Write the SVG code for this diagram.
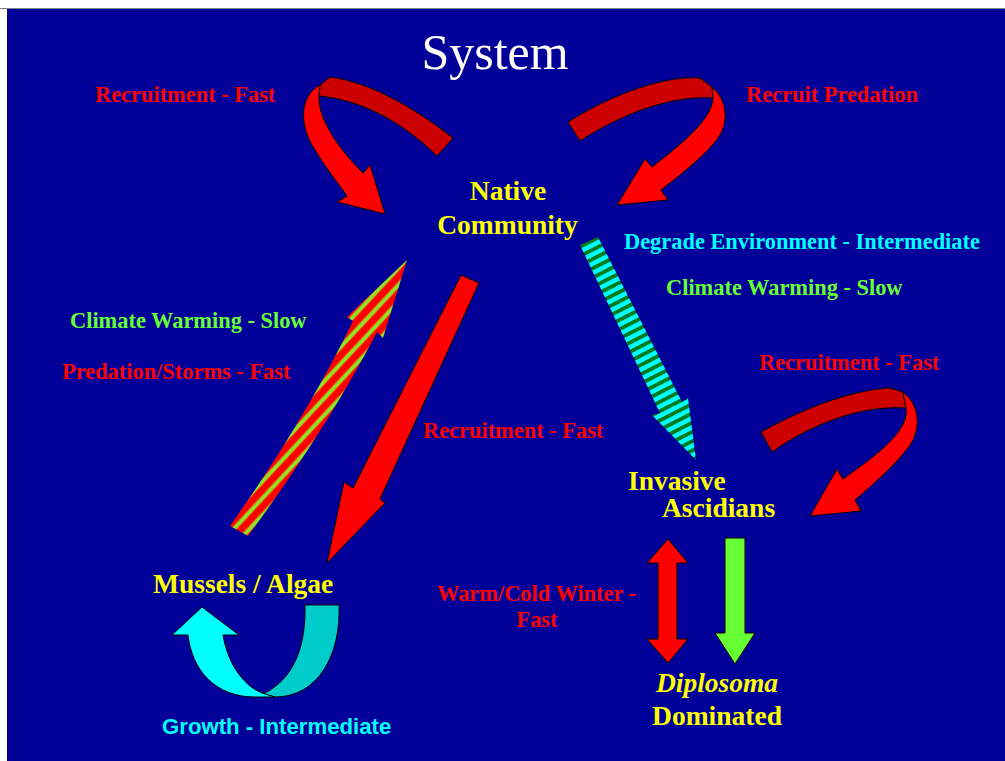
<svg xmlns="http://www.w3.org/2000/svg" width="1005" height="761" viewBox="0 0 1005 761">
  <defs>
    <style>
      .lbl { font-family: "Liberation Serif", "Times New Roman", serif; font-weight: bold; font-size: 22.4px; }
      .node { font-family: "Liberation Serif", "Times New Roman", serif; font-weight: bold; font-size: 27.5px; fill: #FFFF00; }
      .red { fill: #FF0000; }
      .grn { fill: #66FF33; }
      .cyn { fill: #00FFFF; }
      .front { fill: #FF0000; stroke: #000; stroke-width: 1; stroke-linejoin: round; }
      .back { fill: #CC0000; stroke: #000; stroke-width: 1; stroke-linejoin: round; }
    </style>
    <pattern id="rg" patternUnits="userSpaceOnUse" width="11.5" height="11.5" patternTransform="rotate(43)">
      <rect x="0" y="0" width="11.5" height="11.5" fill="#FF0000"/>
      <rect x="0.5" y="0" width="4.5" height="11.5" fill="#D0A818"/>
      <rect x="1.5" y="0" width="2.5" height="11.5" fill="#7CF028"/>
    </pattern>
    <pattern id="cg" patternUnits="userSpaceOnUse" width="8.3" height="8.3" patternTransform="rotate(63)">
      <rect x="0" y="0" width="8.3" height="8.3" fill="#00FFFF"/>
      <rect x="0" y="0" width="3.8" height="8.3" fill="#007A1E"/>
    </pattern>
  </defs>

  <rect x="0" y="0" width="1005" height="761" fill="#FFFFFF"/>
  <rect x="0" y="8" width="1005" height="1" fill="#808080"/>
  <rect x="7" y="9" width="998" height="752" fill="#000099"/>

  <text x="495" y="69" text-anchor="middle" font-family="Liberation Serif, Times New Roman, serif" font-size="50" fill="#FFFFFF">System</text>

  <g id="connectors">
    <!-- top-left self loop -->
    <path class="back" d="M 437,156 L 453,138 C 415,108 370,82 330,77 L 320,85 L 319,96 C 360,100 400,120 437,156 Z"/>
    <path class="front" d="M 320,85 C 300,95 298,125 315,150 C 325,167 337,182 347,196 L 337,202 L 385,214 L 370,165 L 363,173 C 340,150 318,120 319,96 Z"/>
    <!-- top-right self loop -->
    <path class="back" d="M 568,122 C 610,95 665,75 700,78 L 712,87 L 713,98 C 670,95 620,115 580,141 Z"/>
    <path class="front" d="M 712,87 C 728,100 730,125 715,142 C 700,160 680,175 661,190 L 668,200 L 617,205 L 645,159 L 652,167 C 680,145 712,120 713,98 Z"/>
    <!-- right self loop on Invasive Ascidians -->
    <path class="back" d="M 761,432 C 800,410 850,390 890,388 L 903,392 L 906,408 C 860,405 810,425 772,452 Z"/>
    <path class="front" d="M 903,392 C 920,405 922,430 908,448 C 895,465 875,483 855,500 L 861,511 L 810,516 L 837,469 L 843,479 C 872,458 910,432 906,408 Z"/>
    <!-- striped up arrow Mussels -> Native -->
    <path fill="url(#rg)" d="M 230,526 Q 305,420 353,321 L 347,317 L 407,260 L 383,338 L 377,332 Q 326,430 248,536 Z"/>
    <!-- red down arrow Native -> Mussels -->
    <path class="front" d="M 461,275 L 479,283 L 380,499 L 385,503 L 327,563 L 344,482 L 353,488 Z"/>
    <!-- striped cyan arrow Native -> Invasive -->
    <path fill="url(#cg)" d="M 580,245 L 598,237 L 682,402 L 688,398 L 696,460 L 652,415 L 660,413 Z"/>
    <!-- double arrow Invasive <-> Diplosoma -->
    <path class="front" d="M 668,539 L 688,563 L 677,563 L 677,639 L 688,639 L 668,663 L 647,639 L 658,639 L 658,563 L 647,563 Z"/>
    <!-- green down arrow -->
    <path fill="#66FF33" stroke="#000" stroke-width="1" d="M 725,538 L 745,538 L 745,633 L 755,633 L 735,664 L 715,633 L 725,633 Z"/>
    <!-- growth loop -->
    <path fill="#00CCCC" stroke="#000" stroke-width="1" d="M 305,605 L 339,605 C 341,655 318,697 275,697 L 263,694 C 292,680 306,650 305,605 Z"/>
    <path fill="#00FFFF" stroke="#000" stroke-width="1" d="M 172,635 L 202,607 L 239,635 L 223,635 C 228,665 245,688 265,694 L 275,697 L 255,697 C 215,697 192,670 188,635 Z"/>
  </g>

  <g id="labels">
    <text class="lbl red" x="95" y="102">Recruitment - Fast</text>
    <text class="lbl red" x="746" y="102">Recruit Predation</text>
    <text class="lbl cyn" x="624" y="249">Degrade Environment - Intermediate</text>
    <text class="lbl grn" x="666" y="295">Climate Warming - Slow</text>
    <text class="lbl grn" x="70" y="328">Climate Warming - Slow</text>
    <text class="lbl red" x="62" y="379">Predation/Storms - Fast</text>
    <text class="lbl red" x="423" y="438">Recruitment - Fast</text>
    <text class="lbl red" x="759" y="370">Recruitment - Fast</text>
    <text class="lbl red" x="437" y="601">Warm/Cold Winter -</text>
    <text class="lbl red" x="537" y="627" text-anchor="middle">Fast</text>
    <text x="162" y="734" font-family="Liberation Sans, Arial, sans-serif" font-weight="bold" font-size="22.2" fill="#00FFFF">Growth - Intermediate</text>
  </g>

  <g id="native-community">
    <text class="node" x="508" y="200" text-anchor="middle">Native</text>
    <text class="node" x="507.5" y="234" text-anchor="middle">Community</text>
  </g>
  <g id="invasive-ascidians">
    <text class="node" x="628" y="490">Invasive</text>
    <text class="node" x="662" y="517">Ascidians</text>
  </g>
  <g id="mussels-algae">
    <text class="node" x="153" y="593">Mussels / Algae</text>
  </g>
  <g id="diplosoma-dominated">
    <text class="node" x="717" y="692" text-anchor="middle" font-style="italic">Diplosoma</text>
    <text class="node" x="717" y="725" text-anchor="middle">Dominated</text>
  </g>
</svg>
